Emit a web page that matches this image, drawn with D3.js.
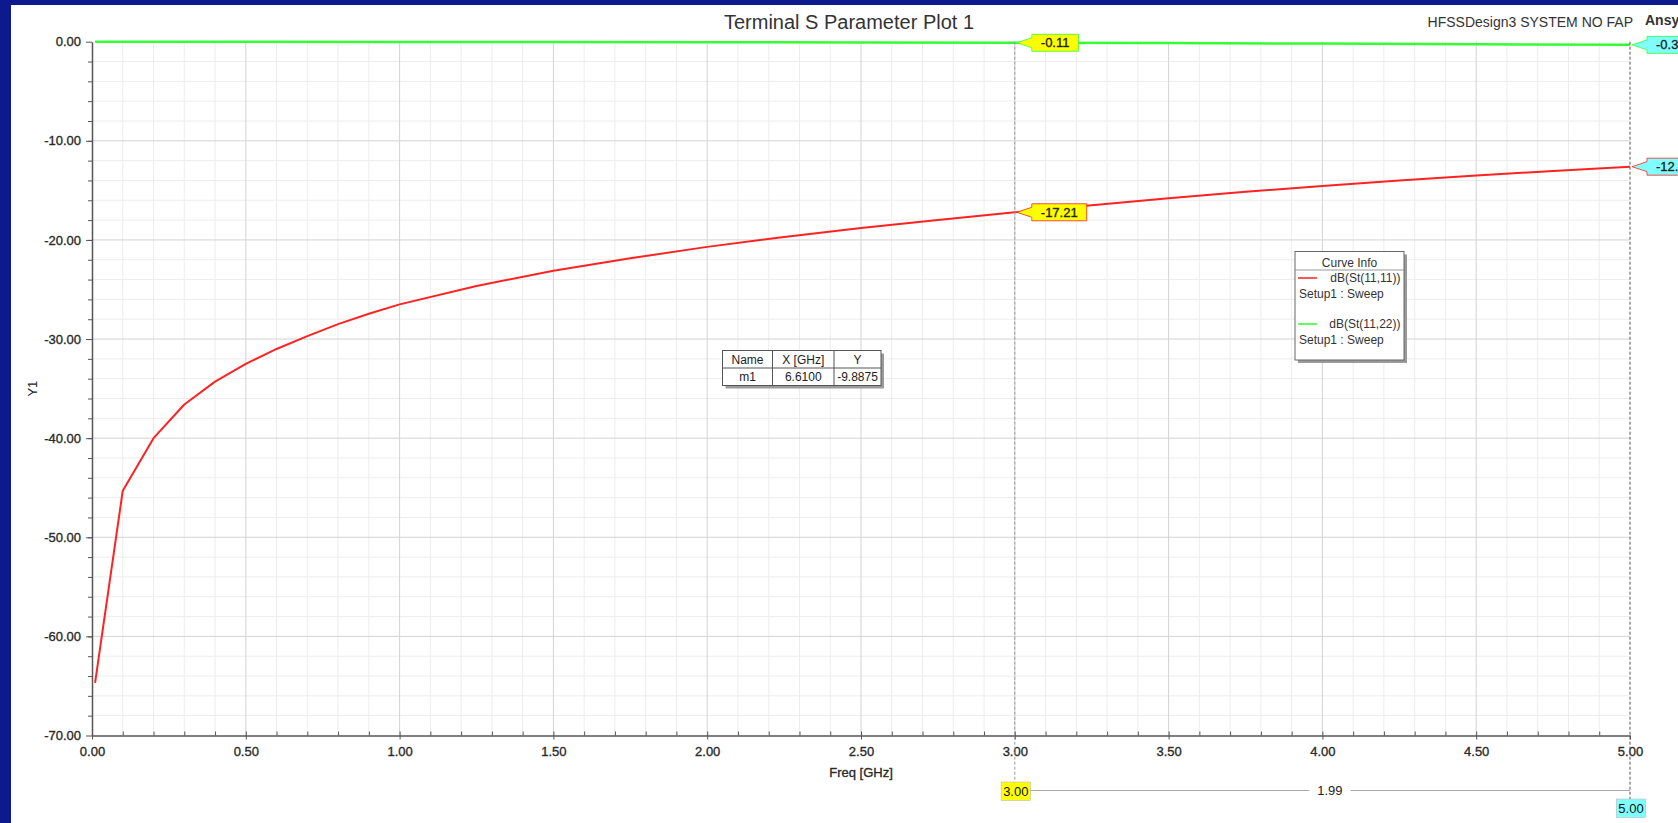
<!DOCTYPE html>
<html>
<head>
<meta charset="utf-8">
<script src="https://cdn.jsdelivr.net/npm/d3@7"></script>
<style>
  html, body { margin: 0; padding: 0; background: #0c1a8e; overflow: hidden; }
  svg { display: block; font-family: "Liberation Sans", Arial, sans-serif; }
  .heavy { stroke: #333; stroke-width: 0.35px; }
</style>
</head>
<body>
<svg id="chart" width="1678" height="823"></svg>
<script>
// dB(St(11,11)) 曲线
const freqS1111 = [0.01, 0.1, 0.2, 0.3, 0.4, 0.5, 0.6, 0.7, 0.8, 0.9, 1.0,
  1.25, 1.5, 1.75, 2.0, 2.25, 2.5, 2.75, 3.0, 3.25, 3.5, 3.75, 4.0, 4.25, 4.5, 4.75, 5.0];
const dbS1111 = [-64.7, -45.3, -40.0, -36.6, -34.3, -32.5, -31.0, -29.7, -28.5, -27.45, -26.5,
  -24.65, -23.1, -21.85, -20.7, -19.7, -18.8, -17.98, -17.21, -16.5, -15.8, -15.15, -14.55, -14.0, -13.5, -13.05, -12.61];

// dB(St(11,22)) 曲线
const freqS1122 = [0.01, 0.5, 1.0, 1.5, 2.0, 2.5, 3.0, 3.5, 4.0, 4.5, 5.0];
const dbS1122 = [0.0, -0.01, -0.02, -0.04, -0.06, -0.08, -0.11, -0.14, -0.19, -0.25, -0.32];

const curveNames = ['dB(St(11,11))', 'dB(St(11,22))'];
const setupName = 'Setup1 : Sweep';

const xTickValues = [0, 0.5, 1, 1.5, 2, 2.5, 3, 3.5, 4, 4.5, 5];
const yTickValues = [0, -10, -20, -30, -40, -50, -60, -70];

const markerFreqs = [3.0, 5.0];
const deltaLabel = '1.99';
const tableRows = [['Name', 'X [GHz]', 'Y'], ['m1', '6.6100', '-9.8875']];

const titleText = 'Terminal S Parameter Plot 1';
const designText = 'HFSSDesign3 SYSTEM NO FAP';

class SParamPlot {
  constructor({ width, height }, ele) {
    this._width = width;
    this._height = height;
    this._container = ele;
    this._margin = { top: 41.7, bottom: 87.5, left: 92, right: 48 };
    this._curves = [];
    this._scaleX = null;
    this._scaleY = null;
  }

  joinData(curves) {
    this._curves = curves.map(c => ({
      ...c,
      points: c.freq.map((f, i) => ({ f, v: c.db[i] }))
    }));
    this._scaleX = d3.scaleLinear([0, 5], [this._margin.left, this._width - this._margin.right]);
    this._scaleY = d3.scaleLinear([-70, 0], [this._height - this._margin.bottom, this._margin.top]);
    return this;
  }

  render() {
    this.#panel();
    this.#grid();
    this.#lines();
    this.#axes();
    this.#markers();
    this.#legend();
    this.#table();
    this.#titles();
    return this;
  }

  #panel() {
    this._container.append('rect')
      .attr('x', 11).attr('y', 5)
      .attr('width', this._width - 11).attr('height', this._height - 5)
      .attr('fill', '#fff');
  }

  #grid() {
    const x = this._scaleX, y = this._scaleY;
    const [y0, y1] = y.range();
    const [x0, x1] = x.range();
    const g = this._container.append('g').attr('class', 'grid');
    const minorX = d3.range(1, 50).map(i => i / 10).filter(f => Math.round(f * 10) % 5 !== 0);
    const minorY = d3.range(-68, 0, 2).filter(v => v % 10 !== 0);

    g.selectAll('.gx-minor').data(minorX).join('line')
      .attr('x1', d => x(d)).attr('x2', d => x(d))
      .attr('y1', y0).attr('y2', y1)
      .attr('stroke', '#ededed');
    g.selectAll('.gy-minor').data(minorY).join('line')
      .attr('y1', d => y(d)).attr('y2', d => y(d))
      .attr('x1', x0).attr('x2', x1)
      .attr('stroke', '#ededed');
    g.selectAll('.gx-major').data(xTickValues.slice(1, -1)).join('line')
      .attr('x1', d => x(d)).attr('x2', d => x(d))
      .attr('y1', y0).attr('y2', y1)
      .attr('stroke', '#d3d3d3');
    g.selectAll('.gy-major').data(yTickValues.slice(1, -1)).join('line')
      .attr('y1', d => y(d)).attr('y2', d => y(d))
      .attr('x1', x0).attr('x2', x1)
      .attr('stroke', '#d3d3d3');
  }

  #lines() {
    const line = d3.line().x(d => this._scaleX(d.f)).y(d => this._scaleY(d.v));
    this._container.append('g').selectAll('path')
      .data(this._curves).join('path')
      .attr('d', d => line(d.points))
      .attr('fill', 'none')
      .attr('stroke', d => d.color)
      .attr('stroke-width', d => d.width)
      .attr('stroke-linejoin', 'round');
  }

  #axes() {
    const x = this._scaleX, y = this._scaleY;
    const fmt = d => d.toFixed(2);
    const minorX = d3.range(1, 50).map(i => i / 10);
    const minorY = d3.range(-68, 0, 2);

    const style = g => {
      g.selectAll('path, line').attr('stroke', '#555');
      g.selectAll('text').attr('fill', '#222').attr('font-size', 13).attr('class', 'heavy')
        .attr('font-family', '"Liberation Sans", Arial, sans-serif');
    };

    this._container.append('g')
      .attr('transform', `translate(${x.range()[0]},0)`)
      .call(d3.axisLeft(y).tickValues(minorY).tickSize(4).tickFormat('').tickSizeOuter(0))
      .call(style).call(g => g.select('.domain').remove());
    this._container.append('g')
      .attr('transform', `translate(${x.range()[0]},0)`)
      .call(d3.axisLeft(y).tickValues(yTickValues).tickSize(6).tickPadding(5).tickFormat(fmt).tickSizeOuter(0))
      .call(style)
      .call(g => g.select('.domain').attr('stroke-width', 1.5));

    const yBase = y.range()[0];
    this._container.append('g')
      .attr('transform', `translate(0,${yBase})`)
      .call(d3.axisBottom(x).tickValues(minorX).tickSize(-4).tickFormat('').tickSizeOuter(0))
      .call(style).call(g => g.select('.domain').remove());
    this._container.append('g')
      .attr('transform', `translate(0,${yBase})`)
      .call(d3.axisBottom(x).tickValues(xTickValues).tickSize(4).tickPadding(7).tickFormat(fmt).tickSizeOuter(0))
      .call(style)
      .call(g => g.select('.domain').attr('stroke-width', 1.5));

    this._container.append('text')
      .attr('class', 'heavy')
      .attr('x', d3.mean(x.range())).attr('y', yBase + 41)
      .attr('text-anchor', 'middle').attr('font-size', 13).attr('fill', '#222')
      .text('Freq [GHz]');
    this._container.append('text')
      .attr('transform', `translate(37,${d3.mean(y.range())}) rotate(-90)`)
      .attr('text-anchor', 'middle').attr('font-size', 13).attr('fill', '#222')
      .text('Y1');
  }

  #callout(g, tipX, tipY, label, fill, stroke) {
    const h = 17;
    const text = g.append('text')
      .attr('class', 'heavy')
      .attr('font-size', 13).attr('fill', '#111')
      .attr('dy', '0.35em').attr('y', tipY)
      .text(label);
    const w = text.node().getComputedTextLength() + 18;
    const bx = tipX + 15;
    const t = tipY - h / 2, b = tipY + h / 2;
    g.insert('path', 'text')
      .attr('d', `M${tipX},${tipY}L${bx},${tipY - 5}L${bx},${t}L${bx + w},${t}L${bx + w},${b}L${bx},${b}L${bx},${tipY + 5}Z`)
      .attr('fill', fill).attr('stroke', stroke).attr('stroke-width', 0.8);
    text.attr('x', bx + w / 2).attr('text-anchor', 'middle');
  }

  #markers() {
    const x = this._scaleX, y = this._scaleY;
    const g = this._container.append('g').attr('class', 'markers');
    const fills = ['#ffff00', '#80ffff'];
    const lineEnds = [782, 799];
    const lineColors = ['#999', '#555'];

    markerFreqs.forEach((f, i) => {
      g.append('line')
        .attr('x1', x(f)).attr('x2', x(f))
        .attr('y1', y(0)).attr('y2', lineEnds[i])
        .attr('stroke', lineColors[i]).attr('stroke-dasharray', '3,2');
    });

    markerFreqs.forEach((f, i) => {
      this._curves.forEach(c => {
        const p = c.points.find(d => d.f === f);
        const cg = g.append('g');
        this.#callout(cg, x(f) + 2, y(p.v), p.v.toFixed(2), fills[i], c.color);
      });
    });

    // 底部频率标记
    const dx0 = x(markerFreqs[0]), dx1 = x(markerFreqs[1]);
    g.append('line')
      .attr('x1', dx0 + 15).attr('x2', dx1)
      .attr('y1', 790.5).attr('y2', 790.5)
      .attr('stroke', '#aaa');
    const dl = g.append('text')
      .attr('x', (dx0 + 15 + dx1) / 2).attr('y', 790.5).attr('dy', '0.35em')
      .attr('text-anchor', 'middle').attr('font-size', 13).attr('fill', '#222')
      .text(deltaLabel);
    const bb = dl.node().getBBox();
    g.insert('rect', () => dl.node())
      .attr('x', bb.x - 8).attr('y', bb.y).attr('width', bb.width + 16).attr('height', bb.height)
      .attr('fill', '#fff');

    const boxY = [782, 799];
    markerFreqs.forEach((f, i) => {
      const t = g.append('text')
        .attr('x', x(f) + 1).attr('y', boxY[i] + 9.5).attr('dy', '0.35em')
        .attr('text-anchor', 'middle').attr('font-size', 13).attr('fill', '#111')
        .text(f.toFixed(2));
      const w = t.node().getComputedTextLength() + 4;
      g.insert('rect', () => t.node())
        .attr('x', x(f) + 1 - w / 2).attr('y', boxY[i])
        .attr('width', w).attr('height', 18.5)
        .attr('fill', fills[i]).attr('stroke', '#bbb').attr('stroke-width', 0.6);
    });
  }

  #legend() {
    const g = this._container.append('g').attr('transform', 'translate(1295,251.5)');
    const w = 109, h = 108.5;
    g.append('rect').attr('x', 3).attr('y', 3).attr('width', w).attr('height', h).attr('fill', '#9a9a9a');
    g.append('rect').attr('width', w).attr('height', h).attr('fill', '#fff').attr('stroke', '#666');
    g.append('text').attr('x', w / 2).attr('y', 11.5).attr('dy', '0.35em')
      .attr('text-anchor', 'middle').attr('font-size', 12).attr('fill', '#333').text('Curve Info');
    g.append('line').attr('x1', 0).attr('x2', w).attr('y1', 18.5).attr('y2', 18.5).attr('stroke', '#999');

    const rows = g.selectAll('.entry').data(this._curves).join('g')
      .attr('transform', (d, i) => `translate(0,${26.5 + i * 46})`);
    rows.append('line').attr('x1', 3).attr('x2', 22).attr('y1', 0).attr('y2', 0)
      .attr('stroke', d => d.color).attr('stroke-width', 1.5);
    rows.append('text').attr('x', w - 3.5).attr('y', 0).attr('dy', '0.35em')
      .attr('text-anchor', 'end').attr('font-size', 12).attr('fill', '#333')
      .text(d => d.name);
    rows.append('text').attr('x', 4).attr('y', 15.5).attr('dy', '0.35em')
      .attr('font-size', 12).attr('fill', '#333')
      .text(setupName);
  }

  #table() {
    const g = this._container.append('g').attr('transform', 'translate(722.5,350.5)');
    const colX = [0, 50, 111.5, 158.5];
    const rowH = 17.5;
    const w = colX[colX.length - 1], h = rowH * tableRows.length;
    g.append('rect').attr('x', 3).attr('y', 3).attr('width', w).attr('height', h).attr('fill', '#9a9a9a');
    g.append('rect').attr('width', w).attr('height', h).attr('fill', '#fff').attr('stroke', '#555');
    colX.slice(1, -1).forEach(cx => {
      g.append('line').attr('x1', cx).attr('x2', cx).attr('y1', 0).attr('y2', h).attr('stroke', '#555');
    });
    g.append('line').attr('x1', 0).attr('x2', w).attr('y1', rowH).attr('y2', rowH).attr('stroke', '#555');
    tableRows.forEach((row, r) => {
      row.forEach((cell, c) => {
        g.append('text')
          .attr('x', (colX[c] + colX[c + 1]) / 2).attr('y', rowH * r + rowH / 2 + 0.5).attr('dy', '0.35em')
          .attr('text-anchor', 'middle').attr('font-size', 12).attr('fill', '#222')
          .text(cell);
      });
    });
  }

  #titles() {
    this._container.append('text')
      .attr('x', 849).attr('y', 29)
      .attr('text-anchor', 'middle').attr('font-size', 20).attr('fill', '#333')
      .text(titleText);
    this._container.append('text')
      .attr('x', 1633).attr('y', 27)
      .attr('text-anchor', 'end').attr('font-size', 14).attr('fill', '#333')
      .text(designText);
    // 右上角的 Ansys 字样在原图中被窗口边缘截断
    this._container.append('text')
      .attr('x', 1645).attr('y', 25)
      .attr('font-size', 14).attr('font-weight', 'bold').attr('fill', '#333')
      .text('Ansys');
  }
}

const svg = d3.select('#chart');
new SParamPlot({ width: 1678, height: 823 }, svg)
  .joinData([
    { name: curveNames[0], freq: freqS1111, db: dbS1111, color: '#ff2222', width: 2 },
    { name: curveNames[1], freq: freqS1122, db: dbS1122, color: '#33ff33', width: 2.5 }
  ])
  .render();
</script>
</body>
</html>
